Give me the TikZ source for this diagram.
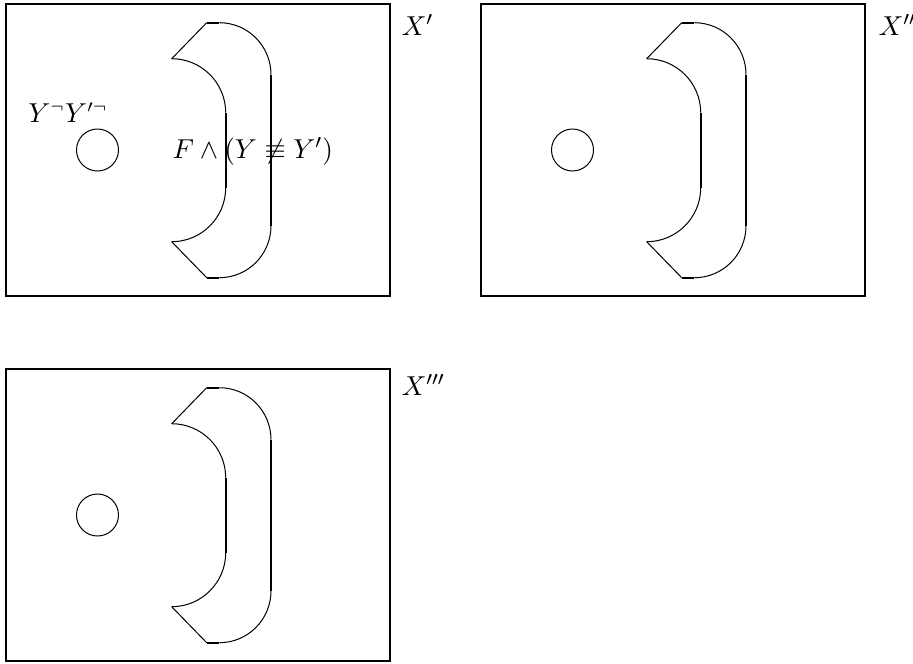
\documentclass[tikz,border=0pt]{standalone}
\begin{document}
\begin{tikzpicture}[x=0.4pt,y=-0.4pt,
  frame/.style={line width=0.85pt},
  thinline/.style={line width=0.4pt},
  thickline/.style={line width=0.85pt},
  lbl/.style={inner sep=0pt,anchor=base west,font=\fontsize{11}{13}\selectfont},
  panel/.pic={
    \draw[frame] (6,4) rectangle (390,296);
    \draw[thinline] (97.5,150) circle[radius=21];
    \draw[thickline] (206.7,22.7) -- (219.3,22.7);
    \draw[thinline] (219.3,22.7) .. controls (248,22.7) and (271,46) .. (271,74.7);
    \draw[thickline] (271,74.7) -- (271,225.7);
    \draw[thinline] (271,225.7) .. controls (271,254.4) and (248,277.7) .. (219.3,277.7);
    \draw[thickline] (219.3,277.7) -- (206.7,277.7);
    \draw[thinline] (206.7,277.7) -- (171.7,241.7);
    \draw[thinline] (171.7,241.7) .. controls (201.5,241.7) and (225.7,217.5) .. (225.7,187.7);
    \draw[thickline] (225.7,187.7) -- (225.7,112.7);
    \draw[thinline] (225.7,112.7) .. controls (225.7,82.9) and (201.5,58.7) .. (171.7,58.7);
    \draw[thinline] (171.7,58.7) -- (206.7,22.7);
  }]
\useasboundingbox (0,0) rectangle (913,663);
\pic at (0,0) {panel};
\pic at (475,0) {panel};
\pic at (0,365) {panel};
\node[lbl] (xa) at (401,35) {$X'$};
\node[lbl] (xb) at (878,35) {$X''$};
\node[lbl] (xc) at (401,395) {$X'''$};
\node[lbl,font=\fontsize{10.5}{12.5}\selectfont] (yy) at (28,122) {$Y^{\neg}Y'^{\neg}$};
\node[lbl] (ff) at (172,158) {$F \wedge (Y \not\equiv Y')$};
\end{tikzpicture}
\end{document}
